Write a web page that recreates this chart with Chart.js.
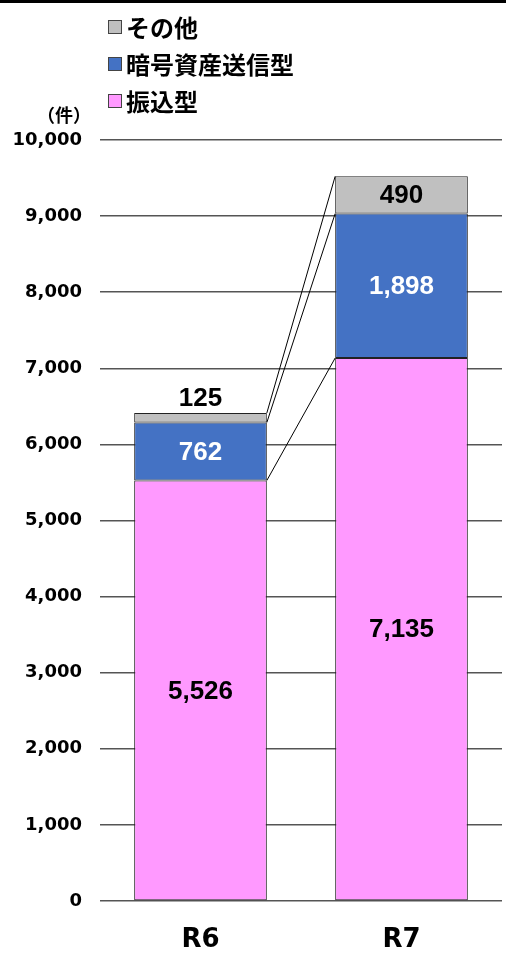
<!DOCTYPE html>
<html lang="ja">
<head>
    <meta charset="UTF-8">
    <title>件数の推移</title>
    <script src="https://cdn.jsdelivr.net/npm/chart.js"></script>
    <style>
        html, body { margin: 0; padding: 0; background: #fff; }
        canvas { display: block; }
    </style>
</head>
<body>
    <canvas id="chart" width="506" height="953"></canvas>

    <script>
        // Data
        const categories = ['R6', 'R7'];
        const seriesNames = ['振込型', '暗号資産送信型', 'その他'];
        const furikomi = [5526, 7135];
        const angou = [762, 1898];
        const sonota = [125, 490];
        const yMax = 10000;
        const yStep = 1000;
        const unitLabel = '（件）';

        const colors = ['#ff99ff', '#4472c4', '#c0c0c0'];
        const labelColors = ['#000', '#fff', '#000'];

        // value labels inside each segment (above the bar when the segment is too thin)
        const valueLabels = {
            id: 'valueLabels',
            afterDatasetsDraw(chart) {
                const ctx = chart.ctx;
                ctx.save();
                ctx.font = 'bold 26px "Liberation Sans", Arial, sans-serif';
                ctx.textAlign = 'center';
                ctx.textBaseline = 'middle';
                chart.data.datasets.forEach((ds, i) => {
                    const meta = chart.getDatasetMeta(i);
                    meta.data.forEach((bar, j) => {
                        const text = ds.data[j].toLocaleString('en-US');
                        const h = bar.base - bar.y;
                        if (h < 26) {
                            ctx.fillStyle = '#000';
                            ctx.fillText(text, bar.x, bar.y - 14);
                        } else {
                            ctx.fillStyle = labelColors[i];
                            ctx.fillText(text, bar.x, (bar.y + bar.base) / 2 + 1);
                        }
                    });
                });
                ctx.restore();
            }
        };

        // lines joining the top of each segment between the two bars
        const connectors = {
            id: 'connectors',
            afterDatasetsDraw(chart) {
                const ctx = chart.ctx;
                ctx.save();
                ctx.strokeStyle = '#000';
                ctx.lineWidth = 1;
                chart.data.datasets.forEach((ds, i) => {
                    const meta = chart.getDatasetMeta(i);
                    const a = meta.data[0];
                    const b = meta.data[1];
                    ctx.beginPath();
                    ctx.moveTo(a.x + a.width / 2, a.y);
                    ctx.lineTo(b.x - b.width / 2, b.y);
                    ctx.stroke();
                });
                ctx.restore();
            }
        };

        // vertical legend (reverse order), unit label and top rule
        const legendBox = {
            id: 'legendBox',
            afterDraw(chart) {
                const ctx = chart.ctx;
                ctx.save();
                ctx.fillStyle = '#000';
                ctx.fillRect(0, 0, chart.width, 3);

                const rows = chart.data.datasets.slice().reverse();
                ctx.font = 'bold 24px "Noto Sans CJK JP", sans-serif';
                ctx.textAlign = 'left';
                ctx.textBaseline = 'middle';
                rows.forEach((ds, k) => {
                    const y = 27 + k * 37;
                    ctx.fillStyle = ds.backgroundColor;
                    ctx.fillRect(108, y - 7, 14, 14);
                    ctx.strokeStyle = '#444';
                    ctx.lineWidth = 1;
                    ctx.strokeRect(108.5, y - 6.5, 13, 13);
                    ctx.fillStyle = '#000';
                    ctx.fillText(ds.label, 126, y + 1);
                });

                ctx.font = 'bold 18px "Noto Sans CJK JP", sans-serif';
                ctx.textAlign = 'center';
                ctx.fillText(unitLabel, 64, 115);
                ctx.restore();
            }
        };

        const seriesData = [furikomi, angou, sonota];

        new Chart(document.getElementById('chart'), {
            type: 'bar',
            data: {
                labels: categories,
                datasets: seriesNames.map((name, i) => ({
                    label: name,
                    data: seriesData[i],
                    backgroundColor: colors[i],
                    borderColor: '#222',
                    borderWidth: 1,
                    borderSkipped: false,
                    categoryPercentage: 1,
                    barPercentage: 0.66
                }))
            },
            options: {
                responsive: false,
                animation: false,
                layout: { padding: { top: 140, right: 4, bottom: 0, left: 0 } },
                plugins: {
                    legend: { display: false },
                    tooltip: { enabled: false }
                },
                scales: {
                    x: {
                        stacked: true,
                        grid: { display: false, drawTicks: false },
                        border: { display: false },
                        ticks: {
                            color: '#000',
                            padding: 24,
                            font: { family: '"DejaVu Sans", sans-serif', size: 26, weight: 'bold' }
                        },
                        afterFit(scale) { scale.height = 52; }
                    },
                    y: {
                        stacked: true,
                        min: 0,
                        max: yMax,
                        grid: { color: '#555', lineWidth: 1.5, drawTicks: false },
                        border: { display: false },
                        ticks: {
                            stepSize: yStep,
                            color: '#000',
                            padding: 18,
                            font: { family: '"DejaVu Sans", sans-serif', size: 18, weight: 'bold' },
                            callback: v => v.toLocaleString('en-US')
                        },
                        afterFit(scale) { scale.width = 100; }
                    }
                }
            },
            plugins: [valueLabels, connectors, legendBox]
        });
    </script>
</body>
</html>
